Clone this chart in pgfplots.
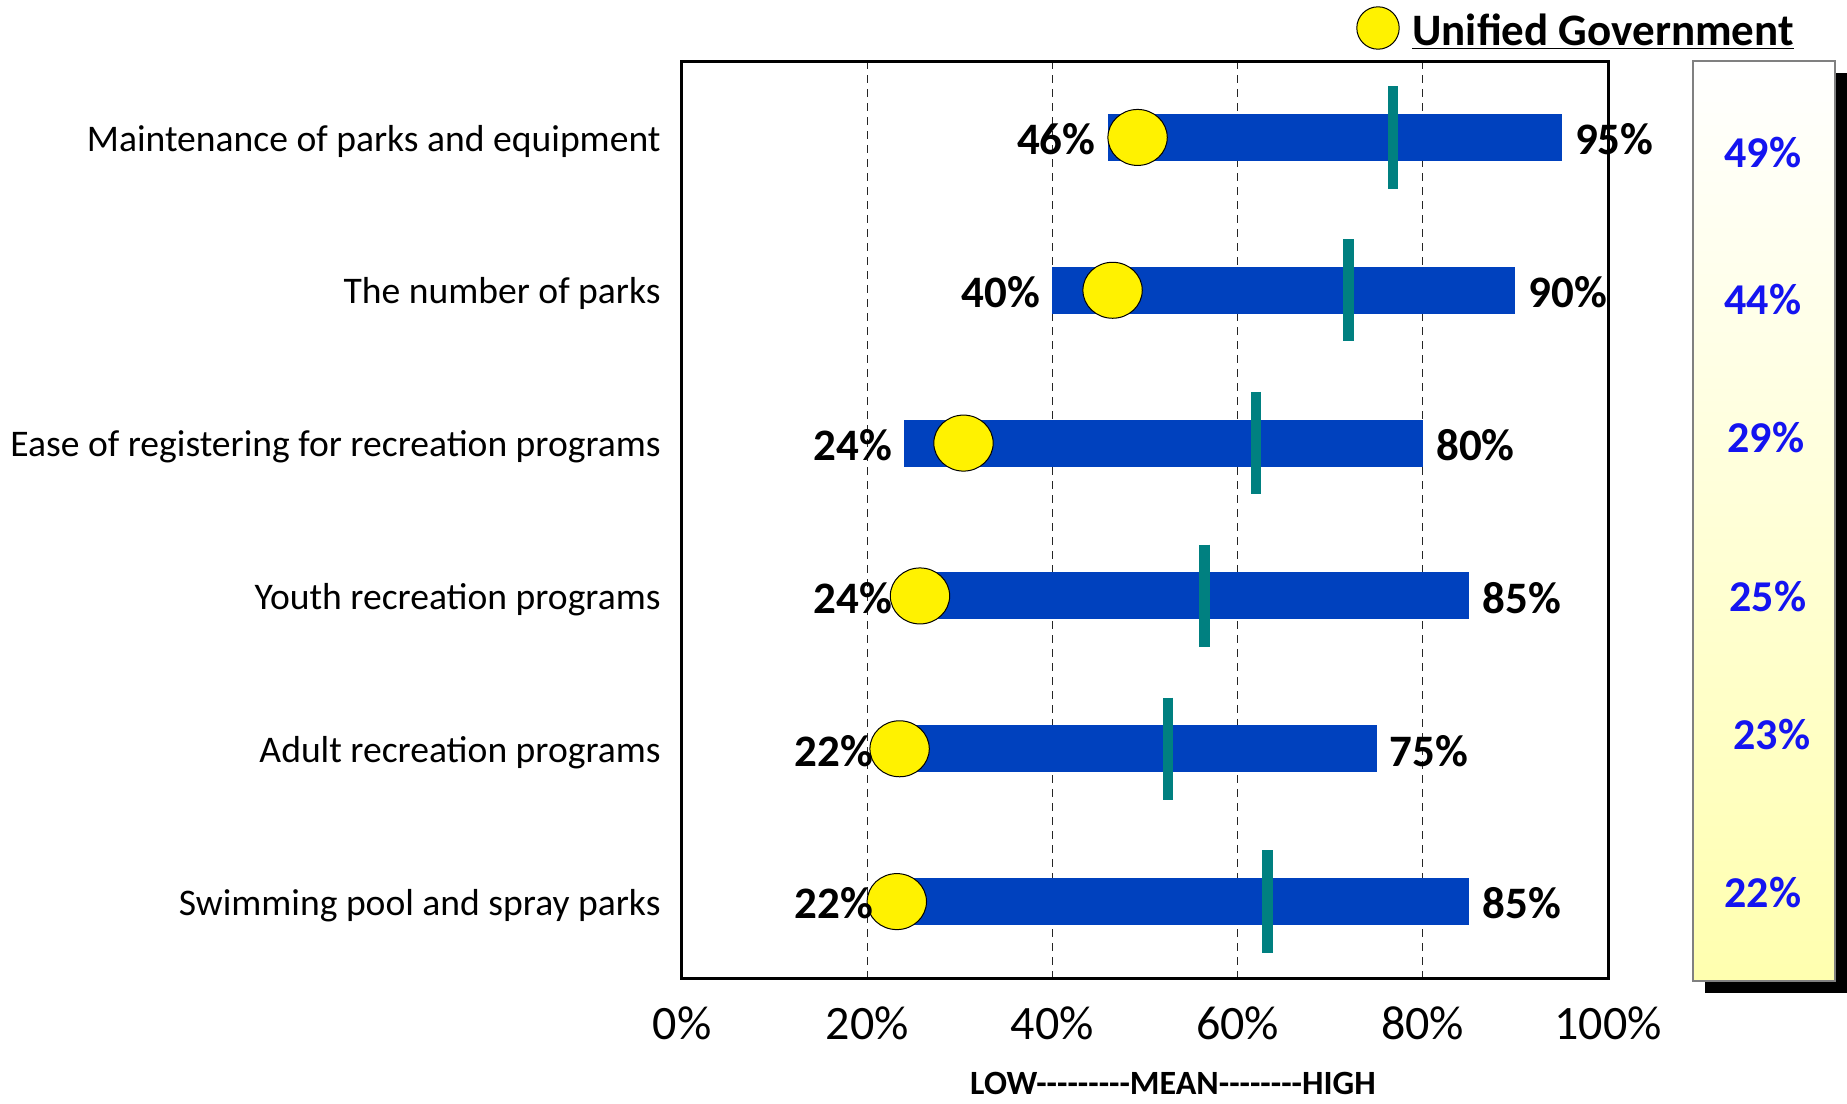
\documentclass[border=0pt]{standalone}
\usepackage{pgfplots}
\pgfplotsset{compat=1.18}
\usepackage{fontspec}
\setmainfont{Carlito}
\definecolor{barblue}{RGB}{0,65,190}
\definecolor{meanteal}{RGB}{0,128,128}
\definecolor{valblue}{RGB}{20,20,240}
\definecolor{panelyellow}{RGB}{255,255,175}
\begin{document}
\begin{tikzpicture}
\useasboundingbox (0,0) rectangle (923.5pt,-551.5pt);
% side panel
\fill[black] (852.5pt,-36.5pt) rectangle (923.5pt,-496.5pt);
\path[draw=gray, line width=0.75pt, top color=white, bottom color=panelyellow] (846.5pt,-30.5pt) rectangle (917.5pt,-490.5pt);
\begin{scope}[every node/.style={font=\fontsize{22}{26}\selectfont\bfseries, text=valblue, inner sep=0pt}]
\node at (881.5pt,-76.5pt) {49\%};
\node at (881.5pt,-150pt) {44\%};
\node at (883pt,-219pt) {29\%};
\node at (884pt,-298.5pt) {25\%};
\node at (886pt,-367.5pt) {23\%};
\node at (881.5pt,-446.5pt) {22\%};
\end{scope}
% legend
\fill[yellow, draw=black, line width=0.5pt] (689pt,-14pt) circle (10.6pt);
\node[anchor=base west, inner sep=0pt, font=\fontsize{22.5}{26}\selectfont\bfseries] at (706pt,-22.5pt) {\underline{Unified Government}};
% bottom label
\node[inner sep=0pt, font=\fontsize{17}{20}\selectfont\bfseries] at (586.5pt,-541.5pt) {LOW-{}-{}-{}-{}-{}-{}-{}-{}-{}MEAN-{}-{}-{}-{}-{}-{}-{}-{}HIGH};
\begin{axis}[
  at={(341pt,-489pt)}, anchor=south west,
  scale only axis, width=463pt, height=458.5pt,
  xmin=0, xmax=100, ymin=0, ymax=6, y dir=reverse,
  clip=false,
  xtick={0,20,40,60,80,100},
  xticklabels={0\%,20\%,40\%,60\%,80\%,100\%},
  ytick={0.5,1.5,2.5,3.5,4.5,5.5},
  yticklabels={Maintenance of parks and equipment,The number of parks,Ease of registering for recreation programs,Youth recreation programs,Adult recreation programs,Swimming pool and spray parks},
  major tick length=0pt,
  xmajorgrids,
  grid style={black!85, line width=0.6pt, dash pattern=on 4pt off 3pt},
  axis line style={line width=1.5pt},
  xticklabel style={font=\fontsize{24}{28}\selectfont, anchor=north, inner sep=0pt, yshift=-14pt},
  yticklabel style={font=\fontsize{18.8}{22}\selectfont, anchor=east, inner sep=0pt, xshift=-10.5pt, yshift=-1.8pt},
]
% range bars
\addplot[barblue, line width=23.5pt, forget plot] coordinates {(46,0.5) (95,0.5)};
\addplot[barblue, line width=23.5pt, forget plot] coordinates {(40,1.5) (90,1.5)};
\addplot[barblue, line width=23.5pt, forget plot] coordinates {(24,2.5) (80,2.5)};
\addplot[barblue, line width=23.5pt, forget plot] coordinates {(24,3.5) (85,3.5)};
\addplot[barblue, line width=23.5pt, forget plot] coordinates {(22,4.5) (75,4.5)};
\addplot[barblue, line width=23.5pt, forget plot] coordinates {(22,5.5) (85,5.5)};
% mean markers
\addplot[only marks, mark=|, mark size=25.6pt, mark options={line width=5.3pt, draw=meanteal}] coordinates {
(76.8,0.5) (72.0,1.5) (62.0,2.5) (56.4,3.5) (52.5,4.5) (63.2,5.5)};
% unified government
\addplot[only marks, mark=*, mark size=14pt, mark options={fill=yellow, draw=black, line width=0.5pt, xscale=1.06}] coordinates {
(49.2,0.5) (46.5,1.5) (30.4,2.5) (25.7,3.5) (23.5,4.5) (23.2,5.5)};
% low labels
\addplot[only marks, mark size=0pt, nodes near coords, point meta=explicit symbolic,
  every node near coord/.append style={anchor=east, inner sep=0pt, xshift=-6pt, yshift=-1pt, font=\fontsize{22.5}{26}\selectfont\bfseries, text=black}]
coordinates {(46,0.5) [46\%] (40,1.5) [40\%] (24,2.5) [24\%] (24,3.5) [24\%] (22,4.5) [22\%] (22,5.5) [22\%]};
% high labels
\addplot[only marks, mark size=0pt, nodes near coords, point meta=explicit symbolic,
  every node near coord/.append style={anchor=west, inner sep=0pt, xshift=6.5pt, yshift=-1pt, font=\fontsize{22.5}{26}\selectfont\bfseries, text=black}]
coordinates {(95,0.5) [95\%] (90,1.5) [90\%] (80,2.5) [80\%] (85,3.5) [85\%] (75,4.5) [75\%] (85,5.5) [85\%]};
\end{axis}
\end{tikzpicture}
\end{document}
